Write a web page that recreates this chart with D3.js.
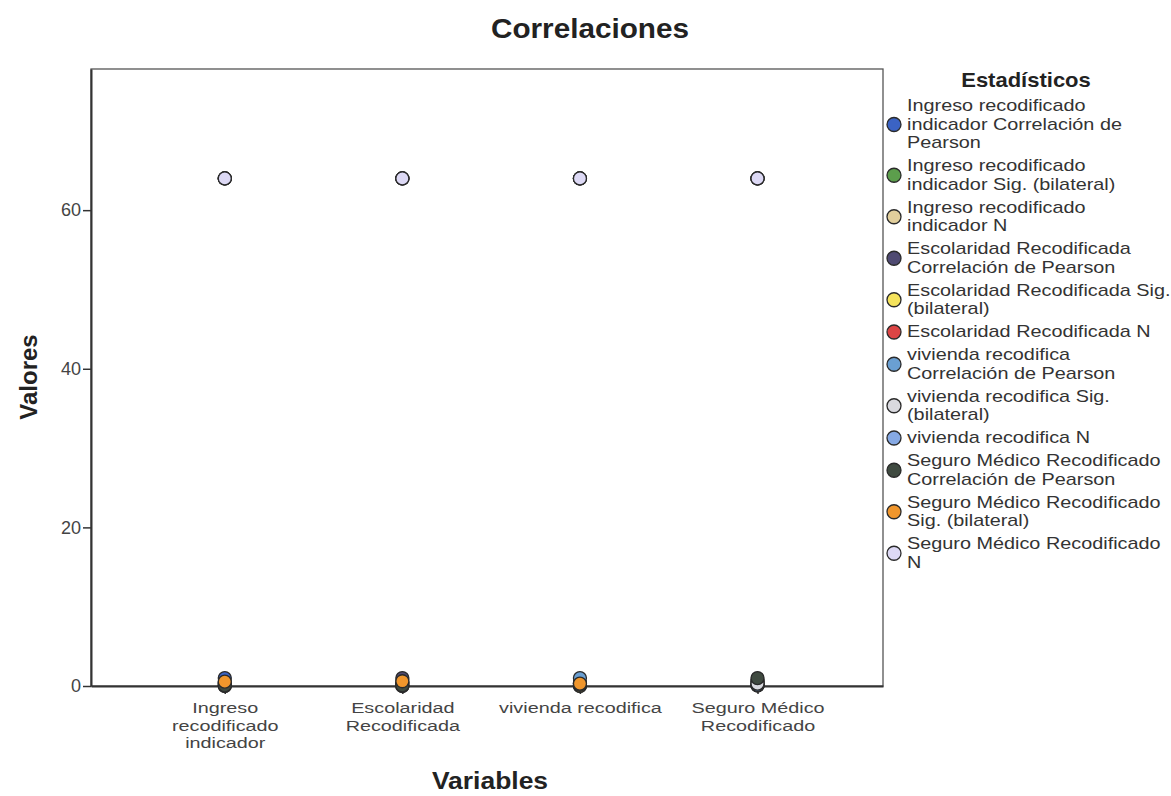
<!DOCTYPE html>
<html><head><meta charset="utf-8">
<script src="https://cdn.jsdelivr.net/npm/d3@7"></script>
<style>body{margin:0;background:#fff;} text{font-family:"Liberation Sans",Arial,sans-serif;}</style>
</head><body><svg id="c" width="1171" height="796"></svg>
<script>
const categories = ["Ingreso recodificado indicador","Escolaridad Recodificada","vivienda recodifica","Seguro Médico Recodificado"];
const categoryLabels = [["Ingreso","recodificado","indicador"],["Escolaridad","Recodificada"],["vivienda recodifica"],["Seguro Médico","Recodificado"]];
const seriesNames = [
 "Ingreso recodificado indicador Correlación de Pearson",
 "Ingreso recodificado indicador Sig. (bilateral)",
 "Ingreso recodificado indicador N",
 "Escolaridad Recodificada Correlación de Pearson",
 "Escolaridad Recodificada Sig. (bilateral)",
 "Escolaridad Recodificada N",
 "vivienda recodifica Correlación de Pearson",
 "vivienda recodifica Sig. (bilateral)",
 "vivienda recodifica N",
 "Seguro Médico Recodificado Correlación de Pearson",
 "Seguro Médico Recodificado Sig. (bilateral)",
 "Seguro Médico Recodificado N"];
const legendLines = [
 ["Ingreso recodificado","indicador Correlación de","Pearson"],
 ["Ingreso recodificado","indicador Sig. (bilateral)"],
 ["Ingreso recodificado","indicador N"],
 ["Escolaridad Recodificada","Correlación de Pearson"],
 ["Escolaridad Recodificada Sig.","(bilateral)"],
 ["Escolaridad Recodificada N"],
 ["vivienda recodifica","Correlación de Pearson"],
 ["vivienda recodifica Sig.","(bilateral)"],
 ["vivienda recodifica N"],
 ["Seguro Médico Recodificado","Correlación de Pearson"],
 ["Seguro Médico Recodificado","Sig. (bilateral)"],
 ["Seguro Médico Recodificado","N"]];
const ingresoPearson     = [1, 0.412, 0.298, 0.076];
const ingresoSig         = [null, 0.001, 0.017, 0.550];
const ingresoN           = [64, 64, 64, 64];
const escolaridadPearson = [0.412, 1, 0.367, 0.066];
const escolaridadSig     = [0.001, null, 0.003, 0.600];
const escolaridadN       = [64, 64, 64, 64];
const viviendaPearson    = [0.298, 0.367, 1, 0.131];
const viviendaSig        = [0.017, 0.003, null, 0.300];
const viviendaN          = [64, 64, 64, 64];
const seguroPearson      = [0.076, 0.066, 0.131, 1];
const seguroSig          = [0.550, 0.600, 0.300, null];
const seguroN            = [64, 64, 64, 64];
const seriesValues = [ingresoPearson, ingresoSig, ingresoN, escolaridadPearson, escolaridadSig, escolaridadN,
  viviendaPearson, viviendaSig, viviendaN, seguroPearson, seguroSig, seguroN];
const colors = ["#3b63c4","#5c9e4c","#e2cf9c","#4f4a72","#f5e35c","#dc4444","#6a9fd2","#d9d9df","#86a9e4","#3f4a40","#f0962c","#ddd9f5"];
const yTicks = [0, 20, 40, 60];

const svg = d3.select("#c");
const L = 91, R = 883, T = 69, B = 686;
const x = d3.scalePoint().domain(categories).range([L, R]).padding(0.73).align(0.516);
const y = d3.scaleLinear().domain([0, 77.8]).range([B, T]);

// frame
svg.append("rect").attr("x", L).attr("y", T).attr("width", R - L).attr("height", B - T)
  .attr("fill", "#fff").attr("stroke", "#555").attr("stroke-width", 1.3);

// y axis
const ya = svg.append("g").attr("transform", `translate(${L},0)`)
  .call(d3.axisLeft(y).tickValues(yTicks).tickSize(8).tickSizeOuter(0).tickPadding(2).tickFormat(d3.format("d")));
ya.select(".domain").attr("stroke", "#333").attr("stroke-width", 2);
ya.selectAll(".tick line").attr("stroke", "#333").attr("stroke-width", 1.5);
ya.selectAll(".tick text").attr("font-size", 18).attr("fill", "#444").style("font-family", "Liberation Sans, Arial, sans-serif");

// x axis
const xa = svg.append("g").attr("transform", `translate(0,${B})`)
  .call(d3.axisBottom(x).tickSize(8).tickSizeOuter(0).tickFormat(""));
xa.select(".domain").attr("stroke", "#333").attr("stroke-width", 2);
xa.selectAll(".tick line").attr("stroke", "#333").attr("stroke-width", 1.5);
xa.selectAll(".tick").each(function(d, i) {
  categoryLabels[i].forEach((ln, j) =>
    d3.select(this).append("text").attr("fill", "#444").attr("font-size", 15)
      .attr("text-anchor", "middle")
      .attr("transform", `translate(0,${27 + j * 17.5}) scale(1.32,1)`).text(ln));
});

// points
seriesValues.forEach((vals, s) => {
  svg.append("g").selectAll("circle")
    .data(vals.map((v, i) => ({v, c: categories[i]})).filter(d => d.v !== null))
    .join("circle")
    .attr("cx", d => x(d.c)).attr("cy", d => y(d.v)).attr("r", 6.5)
    .attr("fill", colors[s]).attr("stroke", "#2a2a2a").attr("stroke-width", 1.3);
});

// titles
svg.append("text").attr("transform", `translate(590,38) scale(1.1,1)`).attr("text-anchor", "middle")
  .attr("font-size", 27).attr("font-weight", "bold").attr("fill", "#222").text("Correlaciones");
svg.append("text").attr("transform", "translate(37,377) rotate(-90)").attr("text-anchor", "middle")
  .attr("font-size", 24).attr("font-weight", "bold").attr("fill", "#222").text("Valores");
svg.append("text").attr("transform", `translate(490,789) scale(1.15,1)`).attr("text-anchor", "middle")
  .attr("font-size", 23).attr("font-weight", "bold").attr("fill", "#222").text("Variables");

// legend
const lg = svg.append("g");
lg.append("text").attr("transform", `translate(1026,87) scale(1.1,1)`).attr("text-anchor", "middle")
  .attr("font-size", 20).attr("font-weight", "bold").attr("fill", "#222").text("Estadísticos");
let ly = 105;
const lineH = 18.5, gap = 4.5;
legendLines.forEach((lines, s) => {
  const first = ly, last = ly + (lines.length - 1) * lineH;
  lg.append("circle").attr("cx", 894).attr("cy", (first + last) / 2 + 1).attr("r", 7)
    .attr("fill", colors[s]).attr("stroke", "#2a2a2a").attr("stroke-width", 1.3);
  lines.forEach((ln, j) =>
    lg.append("text").attr("font-size", 16).attr("fill", "#333")
      .attr("transform", `translate(907,${first + j * lineH + 6}) scale(1.24,1)`).text(ln));
  ly = last + lineH + gap;
});
</script></body></html>
